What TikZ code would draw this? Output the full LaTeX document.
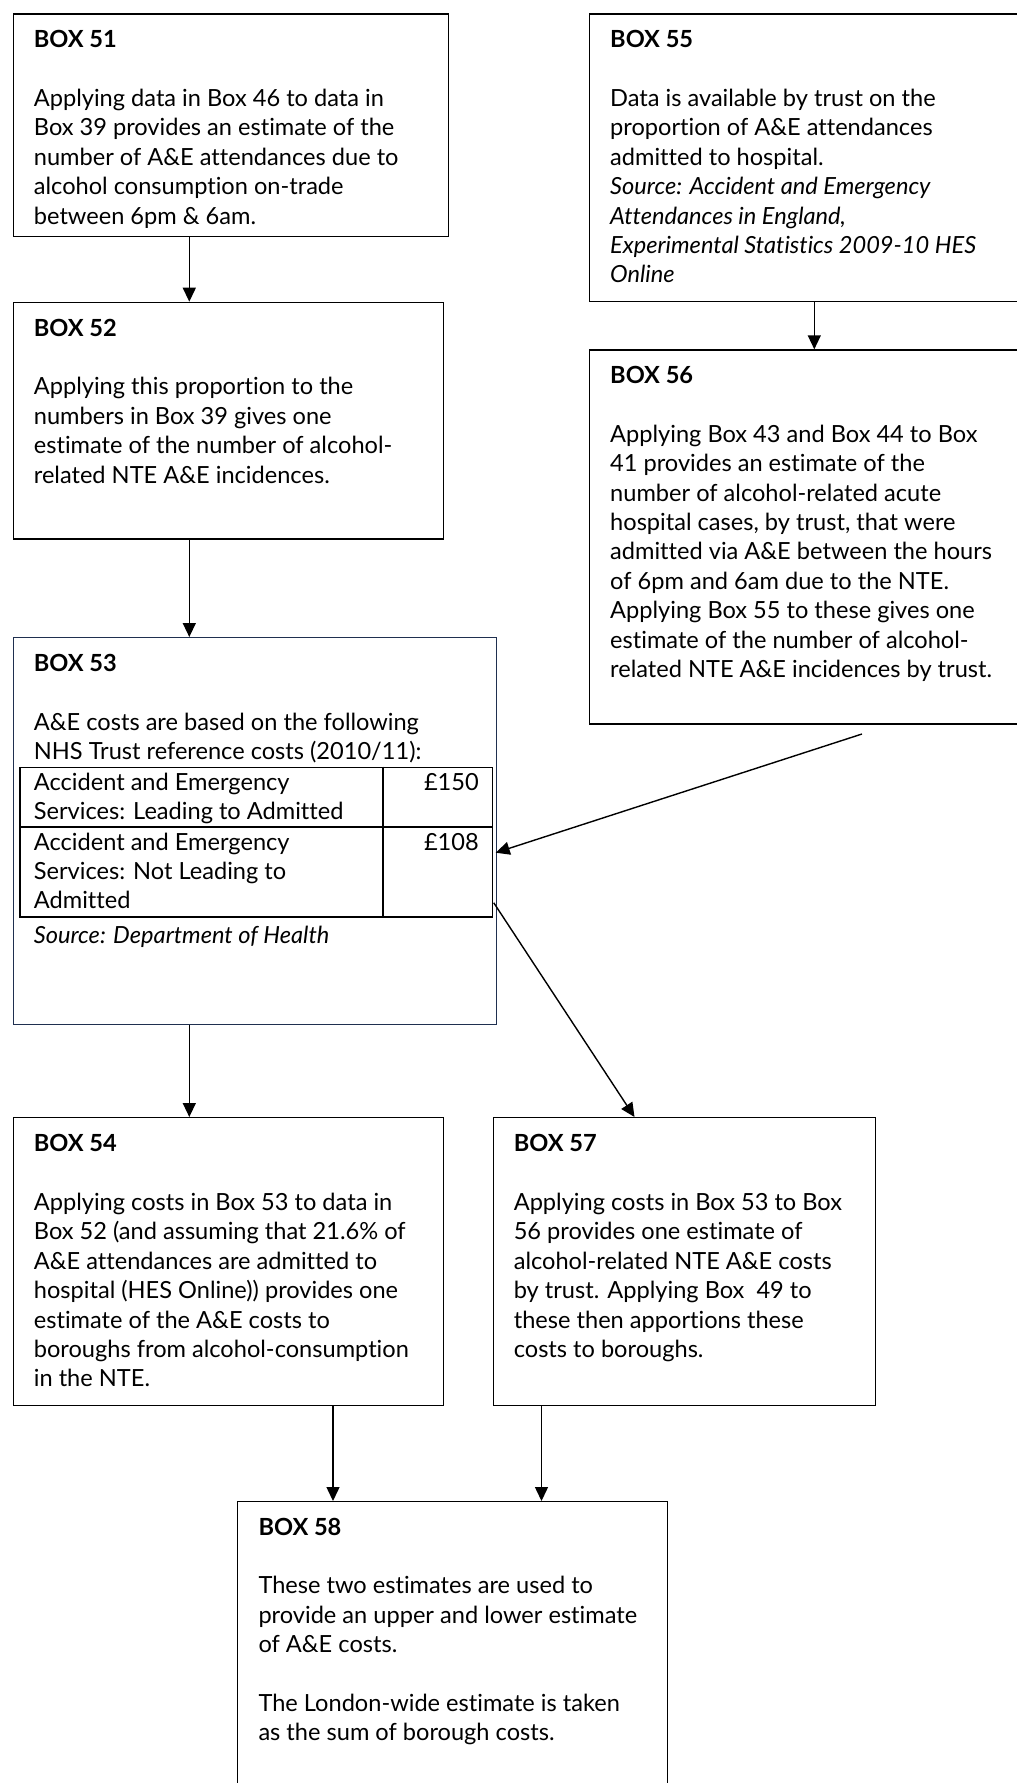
\documentclass[tikz,border=0pt]{standalone}
\usepackage{fontspec}
\setmainfont{Lato}[Ligatures={NoCommon}]
\usetikzlibrary{arrows.meta,calc}

\definecolor{boxnavy}{HTML}{1F2F4F}

% stack of left-aligned lines whose baseline is the first line's baseline
\newcommand\textlines[1]{\vtop{\baselineskip=29.4pt\lineskiplimit=-100pt\halign{##\hfil\cr#1\crcr}}}

\tikzset{
  flowbox/.style={draw, line width=1.3pt, rectangle, inner sep=0pt, anchor=north west},
  boxtext/.style={anchor=base west, inner sep=0pt, font=\fontsize{23.6}{29.4}\selectfont},
  arr/.style={line width=1.4pt, -{Triangle[length=14pt,width=13pt]}},
  tableline/.style={line width=1.7pt}
}

\begin{document}
\begin{tikzpicture}[x=1pt,y=-1pt]
\useasboundingbox (0,0) rectangle (1017,1783);
\clip (0,0) rectangle (1017,1783);

% ---------- boxes ----------
\node[flowbox, minimum width=435pt, minimum height=222.4pt] (b51) at (12.7,13.3) {};
\node[flowbox, minimum width=430pt, minimum height=236.6pt] (b52) at (12.7,301.7) {};
\node[flowbox, draw=boxnavy, minimum width=483.3pt, minimum height=387pt] (b53) at (12.7,637) {};
\node[flowbox, minimum width=430pt, minimum height=288pt] (b54) at (12.7,1117) {};
\node[flowbox, minimum width=441pt, minimum height=287.7pt] (b55) at (589,13.3) {};
\node[flowbox, minimum width=441pt, minimum height=374pt] (b56) at (589,349.3) {};
\node[flowbox, minimum width=382.4pt, minimum height=288pt] (b57) at (492.6,1117) {};
\node[flowbox, minimum width=430pt, minimum height=300pt] (b58) at (236.7,1501) {};

% ---------- texts ----------
\begin{scope}
  \clip ($(b51.north west)+(0,0)$) rectangle ($(b51.south east)+(0,-10)$);
  \node[boxtext] (t51) at ($(b51.north west)+(21,34.4)$) {\textlines{%
    \textbf{BOX 51}\cr\cr
    Applying data in Box 46 to data in\cr
    Box 39 provides an estimate of the\cr
    number of A\&E attendances due to\cr
    alcohol consumption on-trade\cr
    between 6pm \& 6am.}};
\end{scope}

\node[boxtext] (t52) at ($(b52.north west)+(21,34.4)$) {\textlines{%
  \textbf{BOX 52}\cr\cr
  Applying this proportion to the\cr
  numbers in Box 39 gives one\cr
  estimate of the number of alcohol-\cr
  related NTE A\&E incidences.}};

\node[boxtext] (t53h) at ($(b53.north west)+(21,34.7)$) {\textlines{%
  \textbf{BOX 53}\cr\cr
  A\&E costs are based on the following\cr
  NHS Trust reference costs (2010/11):}};

% cost table inside box 53
\node[draw, tableline, rectangle, inner sep=0pt, anchor=north west,
      minimum width=472.7pt, minimum height=149.3pt] (t53) at (19,766.7) {};
\draw[tableline] ($(t53.north west)+(0,60)$) -- ($(t53.north east)+(0,60)$);
\draw[tableline] ($(t53.north west)+(364,0)$) -- ($(t53.south west)+(364,0)$);
\node[boxtext] (r1) at ($(t53.north west)+(14.7,23.3)$) {\textlines{%
  Accident and Emergency\cr
  Services: Leading to Admitted}};
\node[boxtext] (r2) at ($(t53.north west)+(14.7,83.3)$) {\textlines{%
  Accident and Emergency\cr
  Services: Not Leading to\cr
  Admitted}};
\node[boxtext, anchor=base east] (p1) at ($(t53.north east)+(-14.4,23.3)$) {£150};
\node[boxtext, anchor=base east] (p2) at ($(t53.north east)+(-14.4,83.3)$) {£108};
\node[boxtext] (src53) at ($(t53.south west)+(14.7,25.7)$) {\textit{Source: Department of Health}};

\node[boxtext] (t54) at ($(b54.north west)+(21,34.7)$) {\textlines{%
  \textbf{BOX 54}\cr\cr
  Applying costs in Box 53 to data in\cr
  Box 52 (and assuming that 21.6\% of\cr
  A\&E attendances are admitted to\cr
  hospital (HES Online)) provides one\cr
  estimate of the A\&E costs to\cr
  boroughs from alcohol-consumption\cr
  in the NTE.}};

\node[boxtext] (t55) at ($(b55.north west)+(21,34.4)$) {\textlines{%
  \textbf{BOX 55}\cr\cr
  Data is available by trust on the\cr
  proportion of A\&E attendances\cr
  admitted to hospital.\cr
  \textit{Source: Accident and Emergency}\cr
  \textit{Attendances in England,}\cr
  \textit{Experimental Statistics 2009-10 HES}\cr
  \textit{Online}}};

\node[boxtext] (t56) at ($(b56.north west)+(21,34.2)$) {\textlines{%
  \textbf{BOX 56}\cr\cr
  Applying Box 43 and Box 44 to Box\cr
  41 provides an estimate of the\cr
  number of alcohol-related acute\cr
  hospital cases, by trust, that were\cr
  admitted via A\&E between the hours\cr
  of 6pm and 6am due to the NTE.\cr
  Applying Box 55 to these gives one\cr
  estimate of the number of alcohol-\cr
  related NTE A\&E incidences by trust.}};

\node[boxtext] (t57) at ($(b57.north west)+(21,34.7)$) {\textlines{%
  \textbf{BOX 57}\cr\cr
  Applying costs in Box 53 to Box\cr
  56 provides one estimate of\cr
  alcohol-related NTE A\&E costs\cr
  by trust. Applying Box\ \ 49 to\cr
  these then apportions these\cr
  costs to boroughs.}};

\node[boxtext] (t58) at ($(b58.north west)+(21.6,34)$) {\textlines{%
  \textbf{BOX 58}\cr\cr
  These two estimates are used to\cr
  provide an upper and lower estimate\cr
  of A\&E costs.\cr\cr
  The London-wide estimate is taken\cr
  as the sum of borough costs.}};

% ---------- connectors ----------
\draw[arr] (189.3,0 |- b51.south) -- (189.3,0 |- b52.north);
\draw[arr] (189.3,0 |- b52.south) -- (189.3,0 |- b53.north);
\draw[arr] (189.3,0 |- b53.south) -- (189.3,0 |- b54.north);
\draw[arr] (814.3,0 |- b55.south) -- (814.3,0 |- b56.north);
\coordinate (s56) at ($(b56.south west)+(273,9.4)$);
\draw[arr] (s56) -- ($(t53.north east)+(2.3,86)$);
\draw[arr] ($(t53.south east)+(0.3,-15)$) -- (634.5,0 |- b57.north);
\draw[arr] (333,0 |- b54.south) -- (333,0 |- b58.north);
\draw[arr] (541.5,0 |- b57.south) -- (541.5,0 |- b58.north);

\end{tikzpicture}
\end{document}
